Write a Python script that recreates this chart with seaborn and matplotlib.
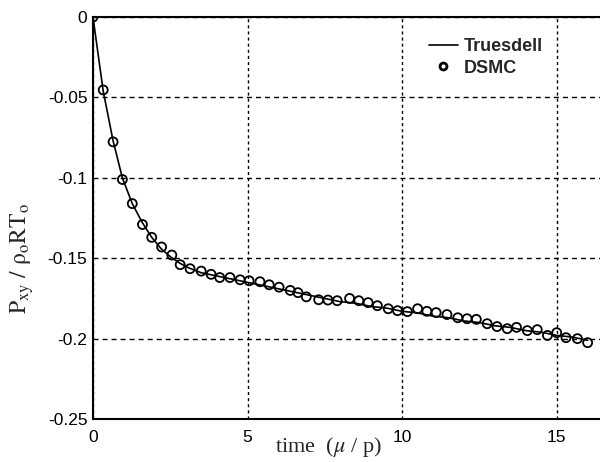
import matplotlib
matplotlib.use("Agg")
import matplotlib.pyplot as plt
import seaborn as sns
import pandas as pd
from matplotlib.lines import Line2D

# Truesdell analytic curve
line_t = [0, 0.33, 0.65, 0.95, 1.27, 1.6, 1.9, 2.2, 2.5, 2.8, 3.1, 3.5, 4.0, 4.5,
          5.0, 5.5, 6.0, 6.5, 7.0, 7.5, 8.0, 8.5, 9.0, 9.5, 10.0, 10.5, 11.0, 11.5,
          12.0, 12.5, 13.0, 13.5, 14.0, 14.5, 15.0, 15.5, 16.0]
line_p = [0, -0.046, -0.077, -0.100, -0.116, -0.128, -0.137, -0.144, -0.149, -0.153,
          -0.156, -0.159, -0.161, -0.163, -0.165, -0.167, -0.169, -0.171, -0.173,
          -0.175, -0.177, -0.178, -0.180, -0.181, -0.183, -0.184, -0.186, -0.187,
          -0.189, -0.190, -0.192, -0.193, -0.195, -0.196, -0.198, -0.199, -0.201]

# DSMC samples
dsmc_t = [0, 0.33, 0.65, 0.95, 1.27, 1.6, 1.9, 2.22, 2.55, 2.82, 3.14, 3.5, 3.82, 4.1,
          4.43, 4.76, 5.05, 5.4, 5.7, 6.02, 6.38, 6.63, 6.9, 7.3, 7.6, 7.9, 8.3, 8.6,
          8.9, 9.2, 9.55, 9.85, 10.17, 10.5, 10.8, 11.1, 11.45, 11.8, 12.1, 12.4,
          12.75, 13.07, 13.4, 13.7, 14.05, 14.37, 14.7, 15.0, 15.3, 15.67, 16.0]
dsmc_p = [0, -0.0453, -0.0776, -0.101, -0.116, -0.129, -0.137, -0.143, -0.148, -0.154,
          -0.1565, -0.158, -0.160, -0.162, -0.162, -0.1634, -0.164, -0.1646, -0.1665,
          -0.168, -0.170, -0.1714, -0.174, -0.1758, -0.176, -0.1764, -0.175, -0.1764,
          -0.1776, -0.1795, -0.1814, -0.1826, -0.1832, -0.1814, -0.183, -0.1838,
          -0.185, -0.187, -0.1876, -0.188, -0.1907, -0.1925, -0.1938, -0.193, -0.195,
          -0.1944, -0.198, -0.1963, -0.1994, -0.200, -0.2025]

xticks = [0, 5, 10, 15]
yticks = [0, -0.05, -0.1, -0.15, -0.2, -0.25]
ytick_labels = ["0", "-0.05", "-0.1", "-0.15", "-0.2", "-0.25"]

sns.set_style("white")
plt.rcParams["font.family"] = ["Liberation Sans", "DejaVu Sans"]
plt.rcParams["mathtext.fontset"] = "stix"

fig = plt.figure(figsize=(6.0, 4.62), dpi=100)
ax = fig.add_axes([0.155, 0.093, 0.845, 0.87])

df_line = pd.DataFrame({"t": line_t, "p": line_p})
df_dsmc = pd.DataFrame({"t": dsmc_t, "p": dsmc_p})

sns.lineplot(data=df_line, x="t", y="p", color="black", linewidth=1.2, ax=ax)
sns.scatterplot(data=df_dsmc, x="t", y="p", marker="o", s=42, facecolors="none",
                edgecolor="black", linewidth=1.3, ax=ax, zorder=3)

ax.set_xlim(0, 16.4)
ax.set_ylim(-0.25, 0)
ax.set_xticks(xticks)
ax.set_xticklabels([str(v) for v in xticks])
ax.set_yticks(yticks)
ax.set_yticklabels(ytick_labels)
ax.tick_params(axis="both", direction="in", length=4, width=1, labelsize=12.5, colors="black")
ax.tick_params(axis="x", pad=8)
ax.tick_params(axis="y", pad=4)

ax.xaxis.grid(True, color="black", linestyle=(0, (2.2, 2.2)), linewidth=1)
ax.yaxis.grid(True, color="black", linestyle=(0, (3.6, 2.9)), linewidth=1)
for side in ["left", "bottom", "top"]:
    ax.spines[side].set_color("black")
    ax.spines[side].set_linewidth(1.5)
ax.spines["right"].set_visible(False)

ax.set_xlabel(r"time  ($\mu$ / p)", fontsize=16, family=["Liberation Serif"])
ax.xaxis.set_label_coords(0.465, -0.04)
ax.set_ylabel(r"$\mathrm{P_{xy}\ /\ \rho_o RT_o}$", fontsize=17)
ax.yaxis.set_label_coords(-0.112, 0.40)

handles = [Line2D([], [], color="black", linewidth=1.2),
           Line2D([], [], marker="o", markerfacecolor="none", markeredgecolor="black",
                  markeredgewidth=2, linestyle="none", markersize=5)]
leg = ax.legend(handles, ["Truesdell", "DSMC"], loc="upper left",
                bbox_to_anchor=(0.645, 0.97), frameon=False, handlelength=1.6,
                handletextpad=0.3, labelspacing=0.25, borderpad=0,
                prop={"family": "Liberation Sans", "weight": "bold", "size": 13})

fig.savefig("out.png", dpi=100)
